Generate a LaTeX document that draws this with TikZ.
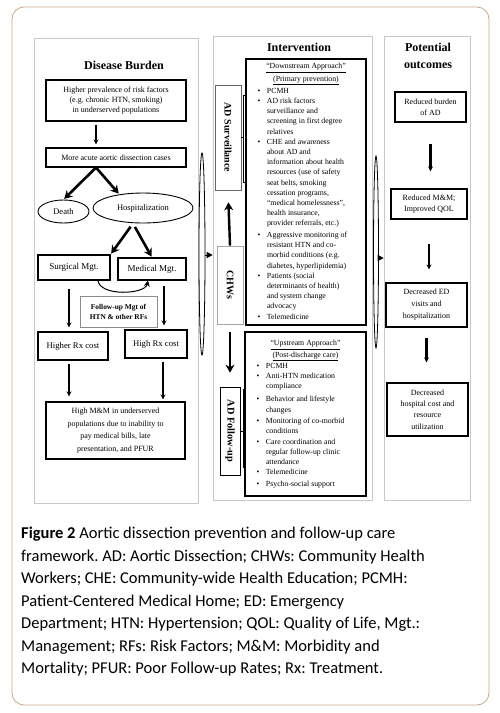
\documentclass[tikz,border=0pt]{standalone}
\usepackage{fontspec}
\setmainfont{Liberation Serif}
\newfontfamily\capfont{Carlito}
\usetikzlibrary{arrows.meta, shapes.geometric, positioning, calc}
\definecolor{FrameTan}{RGB}{198,168,138}
\definecolor{PanelGray}{RGB}{200,200,200}
\newcommand{\bl}{\hspace{2.5pt}\textbullet}
\newcommand{\fs}[2]{\fontsize{#1}{#2}\selectfont}
\frenchspacing

\begin{document}
\begin{tikzpicture}[x=1pt,y=-1pt,
    panel/.style={draw=PanelGray,line width=0.6pt,inner sep=0pt},
    ttl/.style={font=\fs{12}{16}\bfseries,align=center},
    box/.style={draw,line width=1.1pt,inner sep=0pt,align=center,font=\fs{8}{10}},
    oval/.style={ellipse,draw,line width=0.9pt,inner sep=0pt,font=\fs{8.5}{10}},
    bigbox/.style={draw,line width=1.2pt,inner sep=0pt,font=\fs{7.8}{10.2}},
    side/.style={draw=black!60,line width=0.7pt,rotate=-90,inner sep=0pt,
                 font=\fs{10}{12}\bfseries},
    arr/.style={-{Stealth[length=5pt,width=5pt]},line width=1.6pt},
    fat/.style={-{Stealth[length=8pt,width=9pt]},line width=2.6pt},
    loopy/.style={line width=0.8pt},
    tip/.style={-{Triangle[length=6pt,width=6pt]},line width=0.8pt}
  ]
  \useasboundingbox (0,0) rectangle (500,713);
  \draw[FrameTan,rounded corners=12pt,line width=0.8pt] (12,7) rectangle (489,705);

  % three panels
  \node[panel,minimum width=164pt,minimum height=465pt] (pan1) at (116,270.5) {};
  \node[panel,minimum width=159pt,minimum height=464pt] (pan2) at (292.5,268) {};
  \node[panel,minimum width=86pt,minimum height=464pt] (pan3) at (427,268) {};
  \node[ttl] (t1) at (124,65) {Disease Burden};
  \node[ttl] (t2) at (299,47) {Intervention};
  \node[ttl,font=\fs{12}{17}\bfseries] (t3) at (428,55.5) {Potential\\outcomes};

  % disease burden
  \node[box,minimum width=140pt,minimum height=41pt] (risk) at (116,100.5)
    {Higher prevalence of risk factors\\(e.g. chronic HTN, smoking)\\in underserved populations};
  \node[box,minimum width=140pt,minimum height=19pt] (more) at (116,157.5)
    {More acute aortic dissection cases};
  \node[oval,minimum width=51pt,minimum height=23pt] (death) at (63.5,211.5) {Death};
  \node[oval,minimum width=100pt,minimum height=30pt] (hosp) at (143,208) {Hospitalization};
  \node[box,font=\fs{9}{10},minimum width=72pt,minimum height=25pt] (surg) at (74,267.5) {Surgical Mgt.};
  \node[box,font=\fs{9}{10},minimum width=68pt,minimum height=22pt] (med) at (152,269) {Medical Mgt.};
  \node[box,draw=black!45,line width=0.7pt,font=\fs{7.4}{10}\bfseries,
        minimum width=77pt,minimum height=31pt] (fumgt) at (118.5,311.5)
    {Follow-up Mgt of\\HTN \& other RFs};
  \node[box,font=\fs{8.7}{10},minimum width=70pt,minimum height=28pt] (hirx) at (73,346) {Higher Rx cost};
  \node[box,font=\fs{8.7}{10},minimum width=62pt,minimum height=28pt] (higrx) at (156,344) {High Rx cost};
  \node[box,font=\fs{8}{12.6},minimum width=139pt,minimum height=57pt] (mm) at (115.5,430.5)
    {High M\&M in underserved\\populations due to inability to\\pay medical bills, late\\presentation, and PFUR};

  \coordinate (fork1) at ([xshift=-20pt]more.south);
  \coordinate (fork2) at ([xshift=-10pt]hosp.south);
  \draw[arr,shorten <=3pt,shorten >=3pt] ([xshift=-20pt]risk.south) -- ([xshift=-20pt]more.north);
  \draw[fat,shorten >=1pt] (fork1) -- (death.north);
  \draw[fat,shorten >=1pt] (fork1) -- (hosp.150);
  \draw[fat,shorten <=4pt,shorten >=1pt] (fork2) -- (surg.north east);
  \draw[fat,shorten <=4pt,shorten >=1pt] (fork2) -- (med.north);
  \draw[-{Stealth[length=6pt,width=6pt]},line width=1pt]
    ([xshift=24pt]surg.south) .. controls +(2,16) and +(-3,14) .. ([xshift=-4pt]med.south);
  \draw[arr,shorten <=8pt,shorten >=4pt] ([xshift=-5pt]surg.south) -- ([xshift=-4pt]hirx.north);
  \draw[arr,shorten <=5pt,shorten >=4pt] ([xshift=12pt]med.south) -- ([xshift=8pt]higrx.north);
  \draw[arr,shorten <=3pt,shorten >=5pt] ([xshift=-4pt]hirx.south) -- ([xshift=-46.5pt]mm.north);
  \draw[arr,shorten <=3pt,shorten >=2pt] ([xshift=7pt]higrx.south) -- ([xshift=47.5pt]mm.north);

  % intervention
  \node[bigbox,minimum width=120pt,minimum height=266pt] (down) at (306,192) {%
    \begin{tabular}{@{}p{12pt}@{}p{90pt}@{}}
      \multicolumn{2}{c}{\underline{``Downstream Approach''}}\\[2.5pt]
      \multicolumn{2}{c}{\underline{(Primary prevention)}}\\[1.5pt]
      \bl & PCMH\\
      \bl & AD risk factors\\
          & surveillance and\\
          & screening in first degree\\
          & relatives\\
      \bl & CHE and awareness\\
          & about AD and\\
          & information about health\\
          & resources (use of safety\\
          & seat belts, smoking\\
          & cessation programs,\\
          & ``medical homelessness'',\\
          & health insurance,\\
          & provider referrals, etc.)\\[1.5pt]
      \bl & Aggressive monitoring of\\
          & resistant HTN and co-\\
          & morbid conditions (e.g.\\
          & diabetes, hyperlipidemia)\\
      \bl & Patients (social\\
          & determinants of health)\\
          & and system change\\
          & advocacy\\
      \bl & Telemedicine
    \end{tabular}};
  \node[bigbox,minimum width=121pt,minimum height=164pt] (up) at (305.5,414) {%
    \begin{tabular}{@{}p{12pt}@{}p{91pt}@{}}
      \multicolumn{2}{c}{\underline{``Upstream Approach''}}\\[1.5pt]
      \multicolumn{2}{c}{\underline{(Post-discharge care)}}\\
      \bl & PCMH\\
      \bl & Anti-HTN medication\\
          & compliance\\[3pt]
      \bl & Behavior and lifestyle\\
          & changes\\[1.5pt]
      \bl & Monitoring of co-morbid\\
          & conditions\\
      \bl & Care coordination and\\
          & regular follow-up clinic\\
          & attendance\\
      \bl & Telemedicine\\[1.5pt]
      \bl & Psycho-social support
    \end{tabular}};
  \node[side,minimum width=105pt,minimum height=26pt] (surv) at (228,137.5) {AD Surveillance};
  \node[side,draw=black!35,minimum width=78pt,minimum height=26pt] (chw) at (230,285) {CHWs};
  \node[side,draw=black,font=\fs{10.3}{12}\bfseries,minimum width=88pt,minimum height=20pt] (fu) at (230,431) {AD Follow-up};
  \draw[fat,line width=2.4pt,shorten >=12pt] (chw.west) -- (surv.east);
  \draw[fat,line width=2.4pt,shorten <=8pt,shorten >=14pt] (chw.east) -- (fu.west);
  \draw[line width=1pt] (246,95) -- (243,95) -- (243,182) -- (246,182);
  \draw[line width=1pt] (surv.north) -- (surv.north -| 243,0);
  \draw[line width=1pt] (246,389) -- (243,389) -- (243,467) -- (246,467);
  \draw[line width=1pt] (fu.north) -- (fu.north -| 243,0);

  % potential outcomes
  \node[box,minimum width=71pt,minimum height=30pt,font=\fs{8}{11}] (out1) at (430.5,107) {Reduced burden\\of AD};
  \node[box,minimum width=76pt,minimum height=30pt,font=\fs{8}{11}] (out2) at (429,204) {Reduced M\&M;\\Improved QOL};
  \node[box,minimum width=81pt,minimum height=44pt,font=\fs{8}{12}] (out3) at (426.5,305) {Decreased ED\\visits and\\hospitalization};
  \node[box,minimum width=81pt,minimum height=53pt,font=\fs{8}{11.3}] (out4) at (427.5,409.5) {Decreased\\hospital cost and\\resource\\utilization};
  \draw[arr,line width=2.2pt,shorten <=21pt,shorten >=17pt] (out1.south) -- (out1.south |- out2.north);
  \draw[arr,line width=2.2pt,shorten <=24pt,shorten >=13pt] (out2.south) -- (out2.south |- out3.north);
  \draw[arr,line width=2.2pt,shorten <=10pt,shorten >=20pt] (out3.south) -- (out3.south |- out4.north);

  % loops feeding the next panel
  \draw[loopy] (202,254) ellipse [x radius=3pt,y radius=101pt];
  \coordinate (loopL) at (205,255);
  \draw[tip] (loopL) -- (loopL -| pan2.west);
  \draw[loopy] (376,252) ellipse [x radius=2.5pt,y radius=96pt];
  \coordinate (loopR) at (378.5,258);
  \draw[tip] (loopR) -- (loopR -| pan3.west);

  % caption
  \node[anchor=north west,inner sep=0pt,align=left,font=\capfont\fs{16.5}{22.5}] (cap) at (21,527)
    {{\bfseries Figure 2} Aortic dissection prevention and follow-up care\\
     framework. AD: Aortic Dissection; CHWs: Community Health\\
     Workers; CHE: Community-wide Health Education; PCMH:\\
     Patient-Centered Medical Home; ED: Emergency\\
     Department; HTN: Hypertension; QOL: Quality of Life, Mgt.:\\
     Management; RFs: Risk Factors; M\&M: Morbidity and\\
     Mortality; PFUR: Poor Follow-up Rates; Rx: Treatment.};
\end{tikzpicture}
\end{document}
